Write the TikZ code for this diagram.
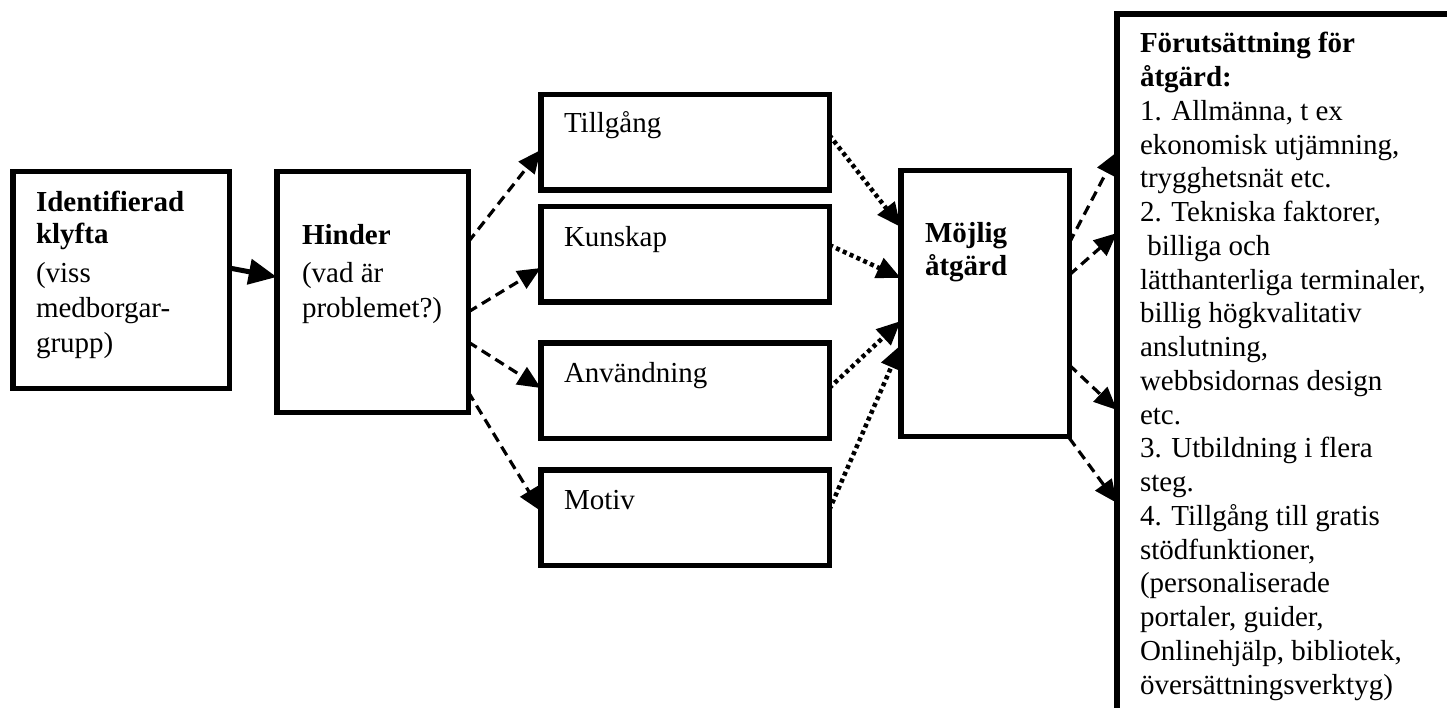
\documentclass[tikz,border=0pt]{standalone}
\usepackage{fontspec}
\setmainfont{Liberation Serif}
\usetikzlibrary{arrows.meta}
\begin{document}
\begin{tikzpicture}[x=1pt,y=-1pt,
  box/.style={draw=black, line width=5.5pt, inner sep=0pt, outer sep=0pt, fill=white},
  txtblock/.style={anchor=base west, inner sep=0pt, outer sep=0pt, font=\fontsize{29}{35}\selectfont},
  flow/.style={line width=5pt, -{Triangle[length=28pt,width=25pt]}},
  dashlink/.style={line width=3.2pt, dash pattern=on 10pt off 6pt, -{Triangle[length=23pt,width=20pt]}},
  dotlink/.style={line width=4.5pt, dash pattern=on 4pt off 3.5pt, -{Triangle[length=24pt,width=21pt]}}]
\clip (0,0) rectangle (1447,708);
\fill[white] (0,0) rectangle (1447,708);

% boxes
\node[box, minimum width=216.5pt, minimum height=216.5pt] (gap) at (121,280) {};
\node[box, minimum width=191.5pt, minimum height=240.5pt] (hinder) at (372.5,292) {};
\node[box, minimum width=288.5pt, minimum height=95.5pt] (tillgang) at (685,142.5) {};
\node[box, minimum width=288.5pt, minimum height=95.5pt] (kunskap) at (685,254.5) {};
\node[box, minimum width=288.5pt, minimum height=95.5pt] (anvandning) at (685,390.5) {};
\node[box, minimum width=288.5pt, minimum height=95.5pt] (motiv) at (685,517.5) {};
\node[box, minimum width=168.5pt, minimum height=265.5pt] (mojlig) at (985,303.5) {};
\node[box, minimum width=500pt, minimum height=900pt, anchor=north west] (prereq) at (1117,14) {};

% texts
\node[txtblock] (gaptext) at (36,212) {\parbox[t]{190pt}{\textbf{Identifierad}\\[-3pt] \textbf{klyfta}\\[4pt] (viss\\ medborgar-\\ grupp)}};
\node[txtblock] (hindertext) at (302,245) {\parbox[t]{160pt}{\textbf{Hinder}\\[3pt] (vad är\\ problemet?)}};
\node[txtblock] (tillgangtext) at (564,133) {Tillgång};
\node[txtblock] (kunskaptext) at (564,247) {Kunskap};
\node[txtblock] (anvandningtext) at (564,382) {Användning};
\node[txtblock] (motivtext) at (564,509) {Motiv};
\node[txtblock] (mojligtext) at (925,243) {\parbox[t]{140pt}{\textbf{Möjlig}\\[-2pt] \textbf{åtgärd}}};
\node[txtblock, font=\fontsize{29}{33.75}\selectfont] (prereqtext) at (1140,53) {\parbox[t]{300pt}{\textbf{Förutsättning för}\\ \textbf{åtgärd:}\\ 1. Allmänna, t ex\\ ekonomisk utjämning,\\ trygghetsnät etc.\\ 2. Tekniska faktorer,\\ \hspace*{0.25em}billiga och\\ lätthanterliga terminaler,\\ billig högkvalitativ\\ anslutning,\\ webbsidornas design\\ etc.\\ 3. Utbildning i flera\\ steg.\\ 4. Tillgång till gratis\\ stödfunktioner,\\ (personaliserade\\ portaler, guider,\\ Onlinehjälp, bibliotek,\\ översättningsverktyg)}};

% connectors
\draw[flow] (gap.east |- 0,268) -- (hinder.west |- 0,277);

\draw[dashlink] (hinder.east |- 0,242) -- (tillgang.west |- 0,150);
\draw[dashlink] (hinder.east |- 0,312) -- (kunskap.west |- 0,268);
\draw[dashlink] (hinder.east |- 0,342) -- (anvandning.west |- 0,388);
\draw[dashlink] (hinder.east |- 0,392) -- (motiv.west |- 0,511);

\draw[dotlink] (tillgang.east |- 0,135) -- (mojlig.west |- 0,227);
\draw[dotlink] (kunskap.east |- 0,245) -- (mojlig.west |- 0,278);
\draw[dotlink] (anvandning.east |- 0,388) -- (mojlig.west |- 0,321);
\draw[dotlink] (motiv.east |- 0,510) -- (mojlig.west |- 0,345);

\draw[dashlink] (mojlig.east |- 0,243) -- (prereq.west |- 0,152);
\draw[dashlink] (mojlig.east |- 0,275) -- (prereq.west |- 0,233);
\draw[dashlink] (mojlig.east |- 0,365) -- (prereq.west |- 0,410);
\draw[dashlink] (mojlig.east |- 0,438) -- (prereq.west |- 0,503);
\end{tikzpicture}
\end{document}
